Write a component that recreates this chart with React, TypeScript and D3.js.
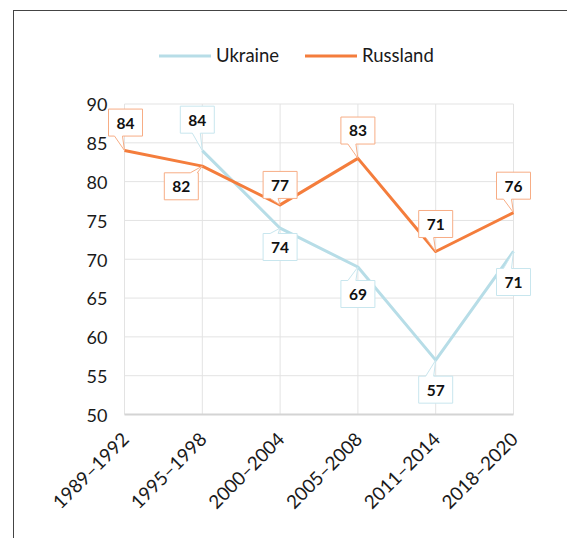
import * as d3 from "d3";
import { useEffect, useRef } from "react";

const periods = ["1989–1992", "1995–1998", "2000–2004", "2005–2008", "2011–2014", "2018–2020"];
const ukraine: (number | null)[] = [null, 84, 74, 69, 57, 71];
const russland: number[] = [84, 82, 77, 83, 71, 76];
const yTicks = [50, 55, 60, 65, 70, 75, 80, 85, 90];

const W = 567;
const H = 538;

// label box placement per point: dx = box centre offset, dy < 0 -> box sits above (bottom edge), dy > 0 -> below (top edge)
const ruPlace = [
  { dx: 1, dy: -14.5 },
  { dx: -21, dy: 6.7 },
  { dx: 0, dy: -6.5 },
  { dx: 0, dy: -14.3 },
  { dx: 0, dy: -14 },
  { dx: 0, dy: -13.5 },
];
const uaPlace = [
  null,
  { dx: -5, dy: -17.4 },
  { dx: 0, dy: 5.3 },
  { dx: 0, dy: 13.5 },
  { dx: 0, dy: 16 },
  { dx: 0, dy: 17 },
];

type Series = {
  name: string;
  values: (number | null)[];
  color: string;
  boxStroke: string;
  place: ({ dx: number; dy: number } | null)[];
};

export default function App() {
  const ref = useRef<SVGSVGElement | null>(null);

  useEffect(() => {
    const el = ref.current;
    if (!el) return;
    const svg = d3.select(el);
    svg.selectAll("*").remove();

    const font = "Lato, 'Open Sans', sans-serif";
    const x = d3.scalePoint<string>().domain(periods).range([124.5, 513.5]);
    const y = d3.scaleLinear().domain([50, 90]).range([414.5, 104]);

    const series: Series[] = [
      { name: "Ukraine", values: ukraine, color: "#b7dde7", boxStroke: "#c8e6ee", place: uaPlace },
      { name: "Russland", values: russland, color: "#f47d3c", boxStroke: "#f7ad85", place: ruPlace },
    ];

    // outer frame
    svg
      .append("rect")
      .attr("x", 13.5)
      .attr("y", 10.5)
      .attr("width", W + 20)
      .attr("height", H + 20)
      .attr("fill", "white")
      .attr("stroke", "#444")
      .attr("stroke-width", 1);

    const [x0, x1] = x.range();

    // horizontal grid
    svg
      .append("g")
      .selectAll("line")
      .data(yTicks.filter((t) => t !== 50))
      .join("line")
      .attr("x1", x0)
      .attr("x2", x1)
      .attr("y1", (d) => y(d))
      .attr("y2", (d) => y(d))
      .attr("stroke", "#e3e3e3")
      .attr("stroke-width", 1);

    // vertical grid
    svg
      .append("g")
      .selectAll("line")
      .data(periods)
      .join("line")
      .attr("x1", (d) => x(d)!)
      .attr("x2", (d) => x(d)!)
      .attr("y1", y(90))
      .attr("y2", y(50))
      .attr("stroke", "#e3e3e3")
      .attr("stroke-width", 1);

    // base axis
    svg
      .append("line")
      .attr("x1", x0)
      .attr("x2", x1)
      .attr("y1", y(50))
      .attr("y2", y(50))
      .attr("stroke", "#d4d4d4")
      .attr("stroke-width", 2);

    // y labels
    svg
      .append("g")
      .selectAll("text")
      .data(yTicks)
      .join("text")
      .attr("x", 107.5)
      .attr("y", (d) => y(d) + 1)
      .attr("dy", "0.35em")
      .attr("text-anchor", "end")
      .attr("font-family", font)
      .attr("font-size", 18)
      .attr("fill", "#1a1a1a")
      .text((d) => d);

    // x labels
    svg
      .append("g")
      .selectAll("text")
      .data(periods)
      .join("text")
      .attr("transform", (d) => `translate(${x(d)! + 1},${436}) rotate(-45)`)
      .attr("dy", "0.35em")
      .attr("text-anchor", "end")
      .attr("font-family", font)
      .attr("font-size", 18.8)
      .attr("fill", "#1a1a1a")
      .text((d) => d);

    // lines
    for (const s of series) {
      const line = d3
        .line<number | null>()
        .defined((d) => d !== null)
        .x((_, i) => x(periods[i])!)
        .y((d) => y(d as number));
      svg
        .append("path")
        .datum(s.values)
        .attr("fill", "none")
        .attr("stroke", s.color)
        .attr("stroke-width", 3)
        .attr("stroke-linejoin", "round")
        .attr("d", line);
    }

    // callout labels
    const bw = 34;
    const bh = 27;
    for (const s of series) {
      s.values.forEach((v, i) => {
        const p = s.place[i];
        if (v === null || !p) return;
        const tx = x(periods[i])!;
        const ty = y(v);
        const cx = tx + p.dx;
        const left = cx - bw / 2;
        const right = cx + bw / 2;
        const above = p.dy < 0;
        const top = above ? ty + p.dy - bh : ty + p.dy;
        const bottom = top + bh;
        const b1 = Math.max(left + 1, Math.min(right - 8, tx - 10));
        const b2 = Math.max(b1 + 6, Math.min(right - 1, tx - 2));
        let path: string;
        if (above) {
          path = `M${left},${top}H${right}V${bottom}H${b2}L${tx},${ty}L${b1},${bottom}H${left}Z`;
        } else {
          path = `M${left},${top}H${b1}L${tx},${ty}L${b2},${top}H${right}V${bottom}H${left}Z`;
        }
        const g = svg.append("g");
        g.append("path")
          .attr("d", path)
          .attr("fill", "white")
          .attr("stroke", s.boxStroke)
          .attr("stroke-width", 1);
        g.append("text")
          .attr("x", cx)
          .attr("y", top + bh / 2 + 0.5)
          .attr("dy", "0.35em")
          .attr("text-anchor", "middle")
          .attr("font-family", font)
          .attr("font-size", 15.5)
          .attr("font-weight", 700)
          .attr("fill", "#111")
          .text(v);
      });
    }

    // legend
    const leg = [
      { s: series[0], x: 159 },
      { s: series[1], x: 305 },
    ];
    const ly = 56;
    for (const l of leg) {
      svg
        .append("line")
        .attr("x1", l.x)
        .attr("x2", l.x + 52)
        .attr("y1", ly)
        .attr("y2", ly)
        .attr("stroke", l.s.color)
        .attr("stroke-width", 3);
      svg
        .append("text")
        .attr("x", l.x + 57)
        .attr("y", ly)
        .attr("dy", "0.35em")
        .attr("font-family", font)
        .attr("font-size", 18.5)
        .attr("fill", "#1a1a1a")
        .text(l.s.name);
    }
  }, []);

  return (
    <svg
      ref={ref}
      width={W}
      height={H}
      style={{ position: "absolute", left: 0, top: 0, display: "block" }}
    />
  );
}
